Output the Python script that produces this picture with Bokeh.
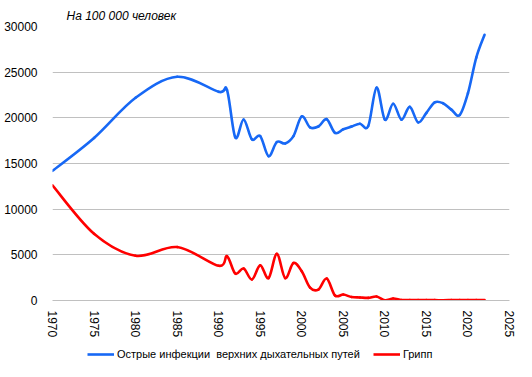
import numpy as np
from bokeh.plotting import figure
from bokeh.layouts import column
from bokeh.models import (Range1d, FixedTicker, Legend, LegendItem,
                          ColumnDataSource)
from bokeh.embed import file_html
from bokeh.resources import INLINE

# ---- data ----
years = [1970, 1975, 1980, 1985, 1990, 1991, 1992, 1993, 1994, 1995, 1996,
         1997, 1998, 1999, 2000, 2001, 2002, 2003, 2004, 2005, 2006, 2007,
         2008, 2009, 2010, 2011, 2012, 2013, 2014, 2015, 2016, 2017, 2018,
         2019, 2020, 2021, 2022]
ari = [14200, 17800, 22200, 24500, 22850, 23050, 17850, 19800, 17650, 18000,
       15800, 17350, 17200, 18000, 20150, 18950, 19050, 19850, 18350, 18750,
       19050, 19350, 19100, 23300, 19800, 21550, 19800, 21200, 19500, 20550,
       21700, 21600, 20900, 20300, 22700, 26600, 29100]
flu = [12600, 7300, 4900, 5850, 3800, 4850, 2950, 3500, 2300, 3850, 2450,
       5100, 2450, 4100, 3200, 1400, 1200, 2400, 550, 650, 380, 330,
       290, 440, 30, 220, 60, 40, 50, 40, 40, 30, 40, 50, 40, 40, 50]

x_ticks = [1970, 1975, 1980, 1985, 1990, 1995, 2000, 2005, 2010, 2015, 2020, 2025]
y_ticks = [0, 5000, 10000, 15000, 20000, 25000, 30000]

name_ari = "Острые инфекции  верхних дыхательных путей"
name_flu = "Грипп"
title_text = "На 100 000 человек"

FONT = "Liberation Sans"
BLUE = "#1768f5"
RED = "#ff0000"


def bezier_source(xs, ys):
    """Smooth (Catmull-Rom style) Bezier segments between consecutive points."""
    x = np.asarray(xs, float)
    y = np.asarray(ys, float)
    n = len(x)
    d = dict(x0=[], y0=[], x1=[], y1=[], cx0=[], cy0=[], cx1=[], cy1=[])
    for i in range(n - 1):
        p0 = i - 1 if i > 0 else i
        p3 = i + 2 if i + 2 < n else i + 1
        d["x0"].append(x[i]); d["y0"].append(y[i])
        d["x1"].append(x[i + 1]); d["y1"].append(y[i + 1])
        d["cx0"].append(x[i] + (x[i + 1] - x[p0]) / 6)
        d["cy0"].append(y[i] + (y[i + 1] - y[p0]) / 6)
        d["cx1"].append(x[i + 1] - (x[p3] - x[i]) / 6)
        d["cy1"].append(y[i + 1] - (y[p3] - y[i]) / 6)
    return ColumnDataSource(d)


p = figure(width=532, height=340, output_backend="svg", toolbar_location=None,
           x_range=Range1d(1970, 2025), y_range=Range1d(0, 30000),
           min_border_left=52, min_border_right=23, min_border_top=26,
           min_border_bottom=39)
p.outline_line_color = None
p.background_fill_color = "white"
p.border_fill_color = "white"

p.title.text = title_text
p.title.text_font = FONT
p.title.text_font_size = "12px"
p.title.text_font_style = "italic"
p.title.text_color = "black"
p.title.offset = 14
p.title.standoff = 7

p.xgrid.grid_line_color = None
p.ygrid.grid_line_color = "#c0c0c0"
p.ygrid.grid_line_width = 1
p.ygrid.ticker = FixedTicker(ticks=y_ticks)

p.xaxis.ticker = FixedTicker(ticks=x_ticks)
p.yaxis.ticker = FixedTicker(ticks=y_ticks)
for ax in (p.xaxis[0], p.yaxis[0]):
    ax.axis_line_color = None
    ax.major_tick_line_color = None
    ax.minor_tick_line_color = None
    ax.major_label_text_font = FONT
    ax.major_label_text_font_size = "12px"
    ax.major_label_text_color = "black"
p.xaxis.major_label_orientation = "vertical"
p.xaxis.major_label_standoff = 4
p.yaxis.major_label_standoff = 9
p.xaxis.axis_line_color = "#c0c0c0"

p.bezier(x0="x0", y0="y0", x1="x1", y1="y1", cx0="cx0", cy0="cy0",
         cx1="cx1", cy1="cy1", source=bezier_source(years, ari),
         line_color=BLUE, line_width=2.6, line_cap="round")
p.bezier(x0="x0", y0="y0", x1="x1", y1="y1", cx0="cx0", cy0="cy0",
         cx1="cx1", cy1="cy1", source=bezier_source(years, flu),
         line_color=RED, line_width=2.6, line_cap="round")

# legend strip below the chart
lg = figure(width=532, height=37, output_backend="svg", toolbar_location=None,
            x_range=Range1d(0, 1), y_range=Range1d(0, 1),
            min_border_left=52, min_border_right=23,
            min_border_top=0, min_border_bottom=0)
lg.axis.visible = False
lg.grid.visible = False
lg.outline_line_color = None
lg.background_fill_color = "white"
lg.border_fill_color = "white"
# proxy renderers (kept outside the visible range) for the legend samples
l_ari = lg.line(x=[5, 6], y=[5, 6], line_color=BLUE, line_width=2.6)
l_flu = lg.line(x=[5, 6], y=[5, 6], line_color=RED, line_width=2.6)
legend = Legend(items=[LegendItem(label=name_ari, renderers=[l_ari]),
                       LegendItem(label=name_flu, renderers=[l_flu])],
                orientation="horizontal", location=(35, 16),
                padding=0, margin=0, spacing=13, label_standoff=3,
                glyph_width=27, glyph_height=14, label_height=14,
                label_text_font=FONT, label_text_font_size="11px",
                label_text_color="black",
                border_line_color=None, background_fill_alpha=0)
lg.add_layout(legend, "center")

open("out.html", "w").write(file_html(column(p, lg, spacing=0), INLINE))
